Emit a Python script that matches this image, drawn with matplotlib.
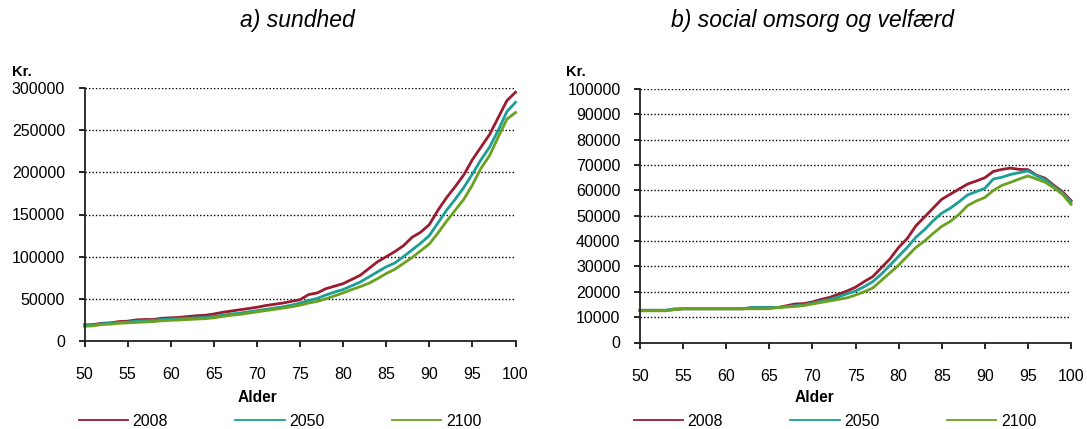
import numpy as np
import matplotlib.pyplot as plt

plt.rcParams['font.family'] = ['Liberation Sans', 'DejaVu Sans']

alder = list(range(50, 101))
years = ['2008', '2050', '2100']
colors = ['#9b1b30', '#1a9e96', '#6aa121']

# a) sundhed, kr. per person by age
sund_2008 = [19000, 19500, 21000, 21500, 23000, 23500, 25000, 25500, 25500, 27000,
             27500, 28000, 29000, 30000, 30500, 32000, 34000, 35500, 37000, 38500,
             40000, 42000, 43500, 45000, 47000, 49000, 55000, 57000, 62000, 65000,
             68000, 73000, 78000, 86000, 94000, 100000, 106000, 113000, 123000, 129000,
             138000, 155000, 170000, 183000, 197000, 215000, 230000, 245000, 265000, 285000,
             295000]
sund_2050 = [18500, 19000, 20500, 21000, 22000, 22500, 23500, 24000, 24500, 25500,
             26000, 26500, 27000, 27500, 28000, 29000, 30500, 32000, 33000, 34500,
             36000, 37500, 39000, 40500, 42500, 45000, 48000, 50500, 54500, 58000,
             61000, 65500, 70000, 76000, 82000, 88000, 92500, 100000, 108000, 116000,
             125000, 140000, 155000, 168000, 182000, 198000, 215000, 230000, 250000, 272000,
             283000]
sund_2100 = [17500, 18000, 19500, 20000, 21000, 21500, 22000, 22500, 23000, 24000,
             24500, 25000, 25500, 26000, 26500, 27500, 29000, 30500, 31500, 33000,
             34500, 36000, 37500, 39000, 40500, 42500, 45000, 47000, 50000, 53500,
             57000, 61000, 64500, 68500, 74000, 80000, 85000, 92000, 99000, 107000,
             115000, 128000, 142000, 155000, 168000, 185000, 205000, 220000, 242000, 263000,
             271000]

# b) social omsorg og velfaerd
soc_2008 = [12700, 12700, 12700, 12700, 13000, 13300, 13300, 13300, 13300, 13300,
            13300, 13300, 13300, 13800, 13800, 13800, 13800, 14500, 15200, 15300,
            16000, 17000, 17800, 19000, 20300, 21800, 24000, 26000, 29500, 33000,
            37500, 41000, 46000, 49500, 53000, 56500, 58500, 60500, 62500, 63700,
            65000, 67500, 68300, 68800, 68300, 68200, 66000, 64800, 62000, 59500,
            56000]
soc_2050 = [12700, 12700, 12700, 12700, 13300, 13300, 13300, 13300, 13300, 13300,
            13300, 13300, 13300, 13800, 13800, 13800, 13800, 14200, 14500, 14800,
            15500, 16300, 17000, 18000, 19200, 20300, 22000, 24000, 27000, 30500,
            34000, 37500, 41500, 44500, 48000, 51000, 53000, 55500, 58200, 59500,
            60800, 64500, 65200, 66300, 67000, 67700, 65800, 64300, 61500, 59000,
            55500]
soc_2100 = [12500, 12500, 12500, 12500, 13000, 13300, 13300, 13300, 13300, 13300,
            13300, 13300, 13300, 13300, 13300, 13300, 13800, 14000, 14200, 14600,
            15200, 15800, 16400, 17000, 17600, 18700, 20000, 21500, 24500, 27500,
            30500, 34000, 37500, 40000, 43000, 45800, 47800, 50500, 54000, 55800,
            57200, 60000, 62000, 63200, 64500, 65700, 64500, 63200, 61000, 58500,
            54500]

W, H = 1087, 429
fig = plt.figure(figsize=(W / 100, H / 100), dpi=100)


def px_axes(x0, y0, x1, y1):
    return fig.add_axes([x0 / W, 1 - y1 / H, (x1 - x0) / W, (y1 - y0) / H])


def style(ax, ymax, ystep):
    ax.set_xlim(50, 100)
    ax.set_ylim(0, ymax)
    ax.set_xticks(range(50, 101, 5))
    ax.set_yticks(range(0, ymax + 1, ystep))
    for s in ['top', 'right']:
        ax.spines[s].set_visible(False)
    for s in ['left', 'bottom']:
        ax.spines[s].set_linewidth(1.3)
        ax.spines[s].set_color('#222222')
    ax.tick_params(axis='x', direction='out', length=4, width=1.2, pad=15, labelsize=11.5)
    ax.tick_params(axis='y', direction='out', length=4, width=1.2, pad=10, labelsize=11.5)
    for v in range(ystep, ymax + 1, ystep):
        ax.axhline(v, color='black', lw=1.0, ls=(0, (1, 1.5)), zorder=0)


ax1 = px_axes(84.5, 88, 515.5, 341)
for s, c, y in zip([sund_2008, sund_2050, sund_2100], colors, years):
    ax1.plot(alder, s, color=c, lw=2.0, label=y, clip_on=False)
style(ax1, 300000, 50000)

ax2 = px_axes(640, 89, 1071, 342.5)
for s, c, y in zip([soc_2008, soc_2050, soc_2100], colors, years):
    ax2.plot(alder, s, color=c, lw=2.0, label=y, clip_on=False)
style(ax2, 100000, 10000)

fig.text(297.5 / W, 1 - 27 / H, 'a) sundhed', ha='center', va='baseline',
         fontstyle='italic', fontsize=16.5)
fig.text(812.5 / W, 1 - 27 / H, 'b) social omsorg og velfærd', ha='center', va='baseline',
         fontstyle='italic', fontsize=16.5)
fig.text(12 / W, 1 - 76 / H, 'Kr.', ha='left', va='baseline', fontweight='bold', fontsize=10.5)
fig.text(566 / W, 1 - 76 / H, 'Kr.', ha='left', va='baseline', fontweight='bold', fontsize=10.5)
fig.text(257.5 / W, 1 - 398 / H, 'Alder', ha='center', va='center', fontweight='bold', fontsize=11.2)
fig.text(814.5 / W, 1 - 398 / H, 'Alder', ha='center', va='center', fontweight='bold', fontsize=11.2)

for ax, x0 in [(ax1, 78.5), (ax2, 633.5)]:
    leg = ax.legend(ncol=3, frameon=False, loc='center left',
                    bbox_to_anchor=(x0 / W, 1 - 421 / H), bbox_transform=fig.transFigure,
                    fontsize=11.5, handlelength=3.1, handletextpad=0.29, columnspacing=4.2,
                    borderpad=0, borderaxespad=0)
    for h in leg.get_lines():
        h.set_linewidth(1.3)

fig.savefig('out.png', dpi=100)
